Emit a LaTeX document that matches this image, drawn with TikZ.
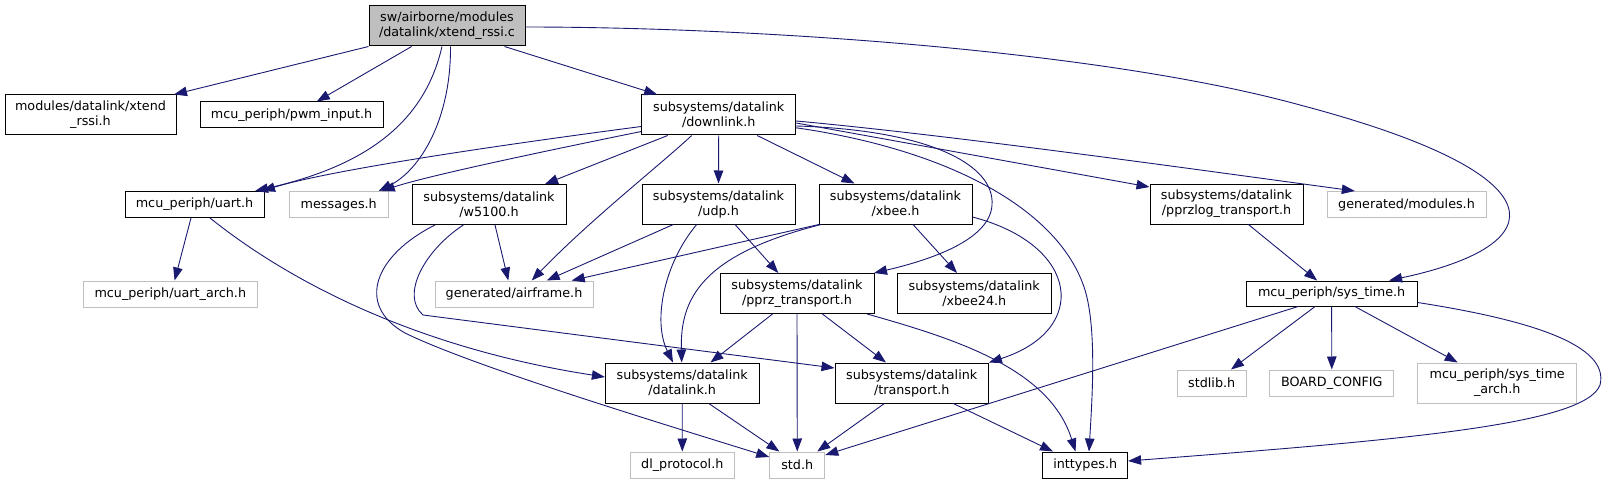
\documentclass[tikz,border=0pt]{standalone}
\usepackage{fontspec}
\setmainfont{DejaVu Sans}
\usetikzlibrary{arrows.meta,calc}
\definecolor{edgecol}{HTML}{191970}
\definecolor{graybd}{HTML}{BFBFBF}
\begin{document}
\begin{tikzpicture}[x=1pt,y=-1pt,
  box/.style={draw=black,line width=1pt,fill=white,inner sep=0pt,align=center,font=\fontsize{12.75}{15}\selectfont},
  gbox/.style={box,draw=graybd},
  rootbox/.style={box,fill=graybd},
  dep/.style={draw=edgecol,line width=0.9pt,-{Triangle[length=13pt,width=9.5pt]}}
]
\useasboundingbox (0,0) rectangle (1608,484);
% nodes
\node[rootbox,minimum width=156,minimum height=40] (root) at (447,26) {sw/airborne/modules\\/datalink/xtend\_rssi.c};
\node[box,minimum width=171,minimum height=40] (xtend) at (90.5,115) {modules/datalink/xtend\\\_rssi.h};
\node[box,minimum width=183,minimum height=26] (pwm) at (291.5,115) {mcu\_periph/pwm\_input.h};
\node[box,minimum width=139,minimum height=26] (uart) at (194.5,204.5) {mcu\_periph/uart.h};
\node[gbox,minimum width=99.5,minimum height=26] (msgs) at (338.75,204.5) {messages.h};
\node[box,minimum width=154,minimum height=40] (w5100) at (489,204.5) {subsystems/datalink\\/w5100.h};
\node[box,minimum width=154,minimum height=40] (downlink) at (718.7,115) {subsystems/datalink\\/downlink.h};
\node[box,minimum width=153,minimum height=40] (udp) at (718.5,204) {subsystems/datalink\\/udp.h};
\node[box,minimum width=153,minimum height=40] (xbee) at (895.5,204) {subsystems/datalink\\/xbee.h};
\node[box,minimum width=153,minimum height=40] (pprzlog) at (1226.5,204) {subsystems/datalink\\/pprzlog\_transport.h};
\node[gbox,minimum width=159,minimum height=26] (modules) at (1406.5,204.5) {generated/modules.h};
\node[gbox,minimum width=174.6,minimum height=26] (uartarch) at (170.3,294) {mcu\_periph/uart\_arch.h};
\node[gbox,minimum width=158,minimum height=26] (airframe) at (514,294) {generated/airframe.h};
\node[box,minimum width=154,minimum height=40] (pprz) at (797,293.5) {subsystems/datalink\\/pprz\_transport.h};
\node[box,minimum width=153.5,minimum height=40] (xbee24) at (974.25,293.5) {subsystems/datalink\\/xbee24.h};
\node[box,minimum width=171,minimum height=25] (systime) at (1331.6,293.5) {mcu\_periph/sys\_time.h};
\node[box,minimum width=153.6,minimum height=40] (datalink) at (682.2,383) {subsystems/datalink\\/datalink.h};
\node[box,minimum width=153.4,minimum height=40] (transport) at (911.7,383) {subsystems/datalink\\/transport.h};
\node[gbox,minimum width=68.6,minimum height=26] (stdlib) at (1211.7,383) {stdlib.h};
\node[gbox,minimum width=124.2,minimum height=26] (board) at (1331.8,383) {BOARD\_CONFIG};
\node[gbox,minimum width=159.2,minimum height=40] (sta) at (1497.2,383) {mcu\_periph/sys\_time\\\_arch.h};
\node[gbox,minimum width=104.6,minimum height=26] (dlp) at (682.3,465) {dl\_protocol.h};
\node[gbox,minimum width=55,minimum height=26] (std) at (797.25,465) {std.h};
\node[box,minimum width=84.7,minimum height=26] (inttypes) at (1085.25,465) {inttypes.h};
% edges from root
\draw[dep] ($(root.south)+(-78.5,0)$) -- ($(xtend.north)+(83.5,0)$);
\draw[dep] ($(root.south)+(-35.4,0)$) -- ($(pwm.north)+(25.3,0)$);
\draw[dep] ($(root.south)+(-5,0)$) .. controls (425,120) and (370,165) .. ($(uart.north)+(60.5,0)$);
\draw[dep] ($(root.south)+(3.5,0)$) .. controls (451,120) and (420,170) .. ($(msgs.north)+(40,0)$);
\draw[dep] ($(root.south)+(57.5,0)$) -- ($(downlink.north)+(-61.5,0)$);
\draw[dep] ($(root.east)+(0,1)$) .. controls (750,27) and (1100,50) .. (1300,105) .. controls (1565,175) and (1555,245) .. ($(systime.north)+(57.5,0)$);
% edges from downlink
\draw[dep] ($(downlink.west)+(0,11.5)$) .. controls (500,145) and (330,170) .. ($(uart.north)+(67.5,0)$);
\draw[dep] ($(downlink.west)+(0,16.5)$) .. controls (560,148) and (430,175) .. ($(msgs.north)+(43,0)$);
\draw[dep] ($(downlink.south)+(-51,0)$) -- ($(w5100.north)+(56,0)$);
\draw[dep] ($(downlink.south)+(-27,0)$) .. controls (660,165) and (590,220) .. ($(airframe.north)+(17.7,0)$);
\draw[dep] (downlink.south) -- (udp.north);
\draw[dep] ($(downlink.south)+(38.5,0)$) -- ($(xbee.north)+(-41,0)$);
\draw[dep] ($(downlink.east)+(0,11)$) .. controls (930,130) and (995,165) .. (992,205) .. controls (990,240) and (930,260) .. ($(pprz.north)+(77,0)$);
\draw[dep] ($(downlink.east)+(0,12.8)$) .. controls (950,150) and (1060,210) .. (1085,290) .. controls (1097,330) and (1092,400) .. ($(inttypes.north)+(3.75,0)$);
\draw[dep] ($(downlink.east)+(0,8)$) -- ($(pprzlog.west)+(0,-17)$);
\draw[dep] ($(downlink.east)+(0,6)$) .. controls (950,135) and (1200,170) .. ($(modules.north)+(-51.7,0)$);
% udp
\draw[dep] ($(udp.south)+(-45.2,0)$) -- ($(airframe.north)+(32.7,0)$);
\draw[dep] ($(udp.south)+(-21.8,0)$) .. controls (665,262) and (652,320) .. ($(datalink.north)+(-9.2,0)$);
\draw[dep] ($(udp.south)+(16.5,0)$) -- ($(pprz.north)+(-18.7,0)$);
% xbee
\draw[dep] ($(xbee.south west)+(0.3,0)$) -- ($(airframe.north)+(57.7,0)$);
\draw[dep] ($(xbee.south west)+(2.7,0)$) .. controls (700,255) and (680,300) .. ($(datalink.north)+(-0.5,0)$);
\draw[dep] ($(xbee.south)+(17.5,0)$) -- ($(xbee24.north)+(-17.25,0)$);
\draw[dep] ($(xbee.east)+(0,13)$) .. controls (1080,245) and (1090,330) .. (transport.north east);
% w5100
\draw[dep] ($(w5100.south)+(6,0)$) -- ($(airframe.north)+(-5.7,0)$);
\draw[dep] ($(w5100.south)+(-25.7,0)$) .. controls (425,250) and (400,295) .. (423,315) -- ($(transport.west)+(0,-15)$);
\draw[dep] ($(w5100.south)+(-54,0)$) .. controls (375,255) and (355,305) .. (405,333) .. controls (470,365) and (650,420) .. ($(std.west)+(0,-8)$);
% uart
\draw[dep] ($(uart.south)+(-3.5,0)$) -- ($(uartarch.north)+(4.3,0)$);
\draw[dep] ($(uart.south)+(15.5,0)$) .. controls (300,290) and (430,350) .. ($(datalink.west)+(0,-6)$);
% pprz
\draw[dep] ($(pprz.south)+(-24.5,0)$) -- ($(datalink.north)+(28.3,0)$);
\draw[dep] (pprz.south) -- (std.north);
\draw[dep] ($(pprz.south)+(25.4,0)$) -- ($(transport.north)+(-25.7,0)$);
\draw[dep] ($(pprz.south)+(70,0)$) .. controls (960,340) and (1050,370) .. ($(inttypes.north)+(-9.75,0)$);
% datalink
\draw[dep] (datalink.south) -- (dlp.north);
\draw[dep] ($(datalink.south)+(26.6,0)$) -- ($(std.north)+(-17.85,0)$);
% transport
\draw[dep] ($(transport.south)+(-27.3,0)$) -- ($(std.north)+(20,0)$);
\draw[dep] ($(transport.south)+(41.6,0)$) -- ($(inttypes.north)+(-32.25,0)$);
% pprzlog
\draw[dep] ($(pprzlog.south)+(21.9,0)$) -- ($(systime.north)+(-14.5,0)$);
% systime
\draw[dep] ($(systime.south)+(-33.5,0)$) -- ($(std.east)+(0,-10)$);
\draw[dep] ($(systime.south)+(-16.5,0)$) -- ($(stdlib.north)+(19.3,0)$);
\draw[dep] (systime.south) -- (board.north);
\draw[dep] ($(systime.south)+(23.3,0)$) -- ($(sta.north)+(-39.5,0)$);
\draw[dep] ($(systime.east)+(0,9)$) .. controls (1530,320) and (1610,345) .. (1600,385) .. controls (1585,425) and (1400,440) .. ($(inttypes.east)+(0,-4)$);
\end{tikzpicture}
\end{document}
